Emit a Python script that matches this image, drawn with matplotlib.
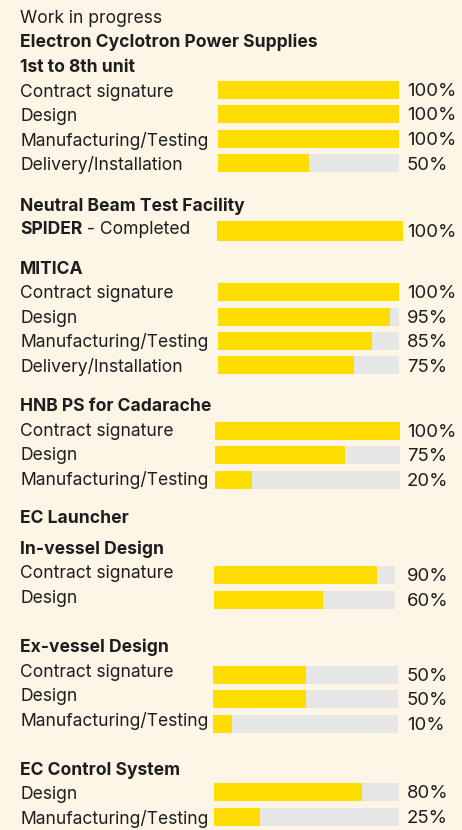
import matplotlib.pyplot as plt

# values (percent complete)
ecps_labels = ['Contract signature', 'Design', 'Manufacturing/Testing', 'Delivery/Installation']
ecps_values = [100, 100, 100, 50]
spider_value = [100]
mitica_labels = ['Contract signature', 'Design', 'Manufacturing/Testing', 'Delivery/Installation']
mitica_values = [100, 95, 85, 75]
hnb_labels = ['Contract signature', 'Design', 'Manufacturing/Testing']
hnb_values = [100, 75, 20]
hnb_bar_fill = [100, 70.5, 20]   # the drawn bar for "Design" stops short of 75% in the source
invessel_labels = ['Contract signature', 'Design']
invessel_values = [90, 60]
exvessel_labels = ['Contract signature', 'Design', 'Manufacturing/Testing']
exvessel_values = [50, 50, 10]
ecctrl_labels = ['Design', 'Manufacturing/Testing']
ecctrl_values = [80, 25]

BG = '#FDF6E7'
YELLOW = '#FFDD00'
TRACK = '#E6E6E6'
INK = '#1E1E1E'
FONT = 'Inter'
FS = 12.6
PFS = 13.4

fig = plt.figure(figsize=(4.62, 8.30), dpi=100, facecolor=BG)
ax = fig.add_axes([0, 0, 1, 1])
ax.set_facecolor(BG)
ax.set_xlim(0, 462)
ax.set_ylim(830, 0)
ax.axis('off')


def header(text, y, bold=True):
    ax.text(20, y, text, fontsize=FS, fontfamily=FONT, color=INK,
            fontweight='bold' if bold else 'normal', va='baseline', ha='left')


def rows(labels, values, y0, x0, x1, step=24.5, h=18, text_dy=6, fills=None):
    fills = fills or values
    for i, (lab, v, f) in enumerate(zip(labels, values, fills)):
        y = y0 + i * step
        ax.barh(y, x1 - x0, left=x0, height=h, color=TRACK, linewidth=0)
        ax.barh(y, (x1 - x0) * f / 100, left=x0, height=h, color=YELLOW, linewidth=0)
        ax.text(20, y + text_dy, lab, fontsize=FS, fontfamily=FONT, color=INK,
                va='baseline', ha='left')
        ax.text(407, y + 6, f'{v}%', fontsize=PFS, fontfamily=FONT, color=INK,
                va='baseline', ha='left')


header('Work in progress', 23.3, bold=False)
header('Electron Cyclotron Power Supplies', 46.7)
header('1st to 8th unit', 71.7)
rows(ecps_labels, ecps_values, 90, 218, 399, text_dy=6.7)

header('Neutral Beam Test Facility', 210.7)
# SPIDER bar (single, slightly wider)
ax.barh(230.5, 403 - 217, left=217, height=20, color=TRACK, linewidth=0)
ax.barh(230.5, (403 - 217) * spider_value[0] / 100, left=217, height=20,
        color=YELLOW, linewidth=0)
t = ax.text(20, 234, 'SPIDER', fontsize=FS, fontfamily=FONT, color=INK,
            fontweight='bold', va='baseline', ha='left')
fig.canvas.draw()
bb = t.get_window_extent().transformed(ax.transData.inverted())
ax.text(bb.x1, 234, ' - Completed', fontsize=FS, fontfamily=FONT, color=INK,
        va='baseline', ha='left')
ax.text(407, 236.5, f'{spider_value[0]}%', fontsize=PFS, fontfamily=FONT, color=INK,
        va='baseline', ha='left')

header('MITICA', 274)
rows(mitica_labels, mitica_values, 292, 218, 399, text_dy=6.3)

header('HNB PS for Cadarache', 410.7)
rows(hnb_labels, hnb_values, 430.5, 215, 400, text_dy=5.2, fills=hnb_bar_fill)

header('EC Launcher', 523.3)
header('In-vessel Design', 554)
rows(invessel_labels, invessel_values, 575, 214, 395, step=25, text_dy=3.3)

header('Ex-vessel Design', 651.7)
rows(exvessel_labels, exvessel_values, 674.5, 213, 398, text_dy=2.2)

header('EC Control System', 775)
rows(ecctrl_labels, ecctrl_values, 791.5, 214, 399, step=25, text_dy=7.5)

fig.savefig('out.png', dpi=100, facecolor=BG)
